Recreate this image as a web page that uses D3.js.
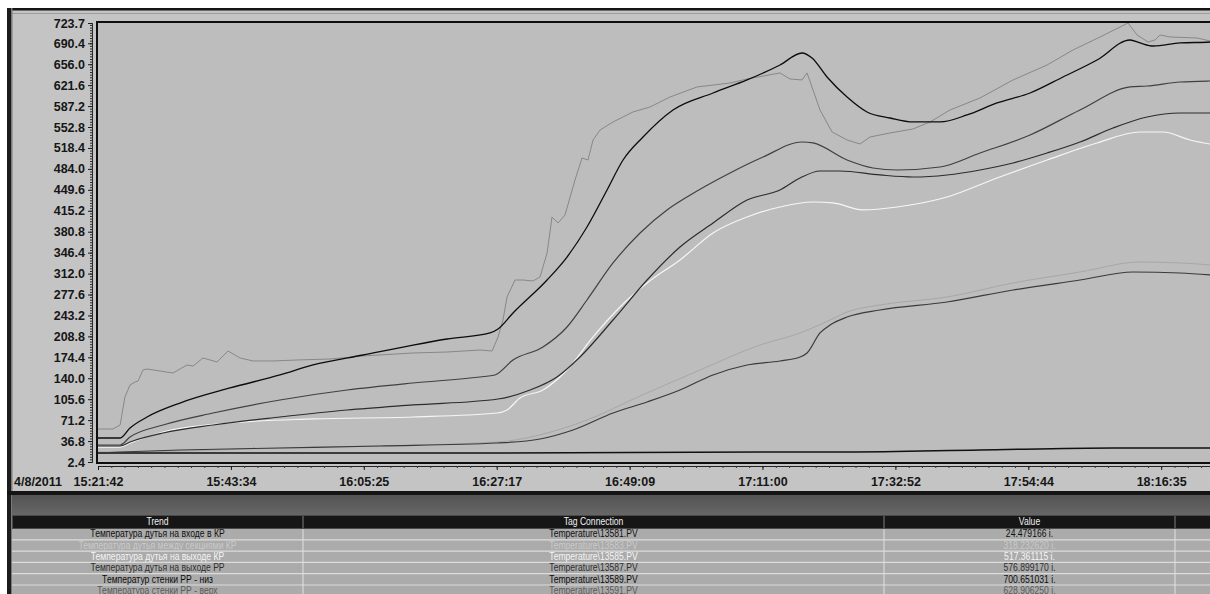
<!DOCTYPE html>
<html><head><meta charset="utf-8">
<script src="https://cdn.jsdelivr.net/npm/d3@7"></script>
<style>
html,body{margin:0;padding:0;background:#fff;overflow:hidden;}
svg{display:block;font-family:"Liberation Sans",Arial,Helvetica,sans-serif;}
</style></head><body>
<svg id="c" width="1210" height="594"></svg>
<script>
// ---- axis labels ----
const dateLabel = "4/8/2011";
const xTickLabels = ["15:21:42","15:43:34","16:05:25","16:27:17","16:49:09","17:11:00","17:32:52","17:54:44","18:16:35"];
const yTickValues = [2.4,36.8,71.2,105.6,140.0,174.4,208.8,243.2,277.6,312.0,346.4,380.8,415.2,449.6,484.0,518.4,552.8,587.2,621.6,656.0,690.4,723.7];

// ---- trend table ----
const columnHeaders = ["Trend","Tag Connection","Value",""];
const trendNames = ["Температура дутья на входе в КР","Температура дутья между секциями КР","Температура дутья на выходе КР","Температура дутья на выходе РР","Температур стенки РР - низ","Температура стенки РР - верх"];
const tagNames = ["Temperature\\13581.PV","Temperature\\13583.PV","Temperature\\13585.PV","Temperature\\13587.PV","Temperature\\13589.PV","Temperature\\13591.PV"];
const currentValues = [24.479166, 318.232620, 517.361115, 576.899170, 700.651031, 628.906250];
const currentTime = "18:30:00";

// ---- trend samples [time, °C] ----
const blastInletKR = [["15:21:42",17.2],["16:27:50",17.2],["17:10:36",18.8],["17:24:55",18.8],["17:46:47",22.1],["18:08:40",25.4],["18:24:37",25.4]];
const blastMidKR = [["15:21:42",18.8],["15:25:20",18.8],["15:51:38",25.4],["16:27:20",35.3],["16:35:34",50.0],["16:42:08",71.4],["16:50:52",110.8],["17:00:44",153.6],["17:10:36",194.6],["17:17:11",214.4],["17:22:07",235.7],["17:24:55",248.9],["17:30:20",260.4],["17:41:22",273.5],["17:52:13",296.5],["18:03:14",314.6],["18:13:07",331.0],["18:19:41",329.4],["18:24:37",326.1]];
const blastOutKR = [["15:21:42",27.0],["15:25:20",27.0],["15:26:58",33.6],["15:32:24",51.7],["15:43:25",66.5],["15:57:04",73.1],["16:13:31",76.3],["16:27:20",82.9],["16:28:59",87.8],["16:31:07",107.6],["16:34:54",120.7],["16:38:51",153.6],["16:43:08",207.8],["16:47:34",257.1],["16:52:01",296.5],["16:57:26",334.3],["17:02:52",378.7],["17:08:28",405.0],["17:13:53",421.4],["17:19:19",429.6],["17:22:36",428.0],["17:27:33",416.5],["17:33:08",421.4],["17:41:22",437.8],["17:49:35",469.0],["17:57:49",498.6],["18:06:02",526.6],["18:13:07",544.6],["18:16:54",544.6],["18:21:20",531.5],["18:24:37",524.9]];
const blastOutRR = [["15:21:42",28.7],["15:25:20",28.7],["15:26:58",35.3],["15:32:24",50.0],["15:40:37",63.2],["15:51:38",76.3],["16:02:40",87.8],["16:13:31",96.1],["16:27:30",105.9],["16:32:46",120.7],["16:37:12",142.1],["16:40:59",174.9],["16:46:25",235.7],["16:52:01",301.4],["16:57:26",355.7],["17:02:52",395.1],["17:08:28",432.9],["17:13:53",449.3],["17:17:11",469.0],["17:20:28",480.5],["17:23:46",480.5],["17:30:20",474.0],["17:35:46",470.7],["17:41:22",474.0],["17:46:47",482.2],["17:52:13",493.7],["17:57:49",510.1],["18:03:14",528.2],["18:08:40",551.2],["18:14:16",569.3],["18:19:41",575.8],["18:24:37",575.8]];
const wallLowRR = [["15:21:42",41.8],["15:25:20",41.8],["15:26:58",58.3],["15:29:46",76.3],["15:35:11",99.3],["15:43:25",124.0],["15:51:38",145.4],["15:57:04",161.8],["16:05:18",178.2],["16:13:31",194.6],["16:19:07",204.5],["16:26:11",214.4],["16:27:30",220.9],["16:29:58",247.2],["16:35:34",301.4],["16:38:51",339.2],["16:42:08",388.5],["16:45:26",449.3],["16:48:04",498.6],["16:51:21",536.4],["16:56:17",580.8],["17:02:52",608.7],["17:08:28",630.1],["17:13:53",654.7],["17:17:30",674.4],["17:19:09",666.2],["17:21:37",635.0],["17:24:55",602.1],["17:28:12",577.5],["17:31:59",567.6],["17:35:46",561.1],["17:40:13",561.1],["17:44:39",572.6],["17:49:35",592.3],["17:55:01",608.7],["18:00:26",635.0],["18:06:02",662.9],["18:11:28",695.8],["18:13:07",690.9],["18:15:15",685.9],["18:19:41",690.9],["18:24:37",692.5]];
const wallTopRR = [["15:21:42",30.3],["15:25:20",30.3],["15:26:58",43.5],["15:32:24",63.2],["15:40:37",82.9],["15:51:38",104.3],["16:02:40",120.7],["16:13:31",132.2],["16:24:32",142.1],["16:27:00",145.4],["16:29:58",170.0],["16:34:54",191.4],["16:38:51",224.2],["16:42:08",268.6],["16:46:25",329.4],["16:50:52",378.7],["16:55:18",416.5],["16:58:35",437.8],["17:05:40",477.3],["17:11:06",503.5],["17:17:30",528.2],["17:19:19",526.6],["17:24:55",498.6],["17:29:11",485.5],["17:33:08",482.2],["17:40:13",487.1],["17:46:47",510.1],["17:55:01",539.7],["18:03:14",580.8],["18:11:28",618.6],["18:14:16",620.2],["18:19:41",626.8],["18:24:37",628.4]];
const domeTemp = [["15:21:42",56.6],["15:24:10",56.6],["15:25:20",63.2],["15:26:08",109.2],["15:26:58",128.9],["15:27:47",133.8],["15:28:17",135.5],["15:29:06",153.6],["15:29:46",155.2],["15:34:02",148.6],["15:36:20",161.8],["15:37:20",160.1],["15:38:58",173.3],["15:41:17",166.7],["15:43:05",184.8],["15:45:04",173.3],["15:47:12",168.4],["15:50:29",168.4],["15:54:26",170.0],["15:59:52",171.6],["16:05:18",176.6],["16:13:31",181.5],["16:19:07",183.1],["16:24:32",186.4],["16:26:31",184.8],["16:27:30",207.8],["16:28:19",235.7],["16:28:59",273.5],["16:30:18",301.4],["16:31:37",301.4],["16:33:15",299.8],["16:34:25",306.4],["16:35:34",345.8],["16:36:23",405.0],["16:37:22",395.1],["16:38:31",408.2],["16:40:10",465.8],["16:41:19",501.9],["16:42:18",498.6],["16:43:08",531.5],["16:44:17",547.9],["16:46:25",561.1],["16:49:42",577.5],["16:52:30",585.7],["16:55:48",602.1],["17:00:14",618.6],["17:05:40",625.1],["17:08:28",631.7],["17:13:53",641.6],["17:15:32",631.7],["17:17:30",630.1],["17:18:20",641.6],["17:19:19",613.6],["17:20:28",580.8],["17:22:27",544.6],["17:24:55",531.5],["17:27:03",524.9],["17:28:42",536.4],["17:31:59",543.0],["17:35:46",549.6],["17:38:34",561.1],["17:41:51",580.8],["17:46:47",600.5],["17:52:13",630.1],["17:57:49",654.7],["18:02:05",679.4],["18:06:32",700.7],["18:11:08",723.7],["18:12:37",704.0],["18:14:26",692.5],["18:15:35",695.8],["18:16:24",704.0],["18:18:03",700.7],["18:22:29",699.1],["18:24:37",694.1]];
const fumeTemp = [["15:21:42",17.2],["15:25:20",18.8],["15:35:11",22.1],["15:51:38",25.4],["16:08:05",28.7],["16:27:20",33.6],["16:34:25",40.2],["16:39:50",55.0],["16:46:25",82.9],["16:52:01",101.0],["16:57:26",120.7],["17:02:52",145.4],["17:08:28",161.8],["17:13:53",168.4],["17:17:11",174.9],["17:18:20",181.5],["17:20:28",214.4],["17:22:07",227.5],["17:24:55",240.6],["17:30:20",252.2],["17:41:22",265.3],["17:52:13",285.0],["18:03:14",301.4],["18:11:57",314.6],["18:19:41",312.9],["18:24:37",309.7]];

const parseT = d3.timeParse("%H:%M:%S");
const svg = d3.select("#c");
const W = 1210;

// ---- scales ----
const t0 = parseT(xTickLabels[0]);
const stepMs = 1311667;                      // spacing of labelled time ticks
const x = d3.scaleTime().domain([t0, new Date(+t0 + 9 * stepMs)]).range([98, 98 + 9 * 132.9]);
const y = d3.scaleLinear().domain([2.4, 723.7]).range([462, 23]);

// ---- window frame ----
svg.append("rect").attr("x", 0).attr("y", 0).attr("width", W).attr("height", 594).attr("fill", "#ffffff");
svg.append("rect").attr("x", 7).attr("y", 8).attr("width", W - 7).attr("height", 484).attr("fill", "#c4c4c4");
svg.append("rect").attr("x", 7).attr("y", 8).attr("width", W - 7).attr("height", 2.5).attr("fill", "#141414");
svg.append("line").attr("x1", 12).attr("x2", W).attr("y1", 13.5).attr("y2", 13.5).attr("stroke", "#9c9c9c");
svg.append("rect").attr("x", 7).attr("y", 8).attr("width", 4).attr("height", 586).attr("fill", "#1c1c1c");
svg.append("rect").attr("x", 11).attr("y", 8).attr("width", 1.5).attr("height", 586).attr("fill", "#7a7a7a");

// ---- plot area ----
svg.append("rect").attr("x", 97).attr("y", 22).attr("width", 1300).attr("height", 441)
  .attr("fill", "#bdbdbd").attr("stroke", "#0e0e0e").attr("stroke-width", 2);

svg.append("clipPath").attr("id", "plotClip").append("rect")
  .attr("x", 98).attr("y", 23).attr("width", 1300).attr("height", 439);

// ---- trend lines ----
const series = [
  { data: blastMidKR.concat([[currentTime, currentValues[1]]]), color: "#a7a7a7", width: 1.0, curve: d3.curveMonotoneX },
  { data: blastInletKR.concat([[currentTime, currentValues[0]]]), color: "#111111", width: 1.5, curve: d3.curveMonotoneX },
  { data: fumeTemp, color: "#3a3a3a", width: 1.2, curve: d3.curveMonotoneX },
  { data: blastOutKR.concat([[currentTime, currentValues[2]]]), color: "#f6f6f6", width: 1.2, curve: d3.curveMonotoneX },
  { data: blastOutRR.concat([[currentTime, currentValues[3]]]), color: "#2c2c2c", width: 1.2, curve: d3.curveMonotoneX },
  { data: wallTopRR.concat([[currentTime, currentValues[5]]]), color: "#404040", width: 1.2, curve: d3.curveMonotoneX },
  { data: domeTemp, color: "#888888", width: 1.0, curve: d3.curveLinear },
  { data: wallLowRR.concat([[currentTime, currentValues[4]]]), color: "#0c0c0c", width: 1.3, curve: d3.curveMonotoneX }
];

const lines = svg.append("g").attr("clip-path", "url(#plotClip)");
series.forEach(s => {
  const line = d3.line().x(d => x(parseT(d[0]))).y(d => y(d[1])).curve(s.curve);
  lines.append("path").attr("d", line(s.data)).attr("fill", "none")
    .attr("stroke", s.color).attr("stroke-width", s.width).attr("stroke-linejoin", "round");
});

// ---- y axis ----
const yAxisG = svg.append("g").attr("transform", "translate(92,0)");
const yMinor = d3.range(0, 21 * 8 + 1).map(i => 2.4 + i * 34.4 / 8).filter(v => v <= 723.7);
yAxisG.append("g").call(d3.axisLeft(y).tickValues(yMinor).tickSize(2).tickFormat(""))
  .call(g => g.selectAll("path,line").attr("stroke", "#2a2a2a"));
yAxisG.append("g").call(d3.axisLeft(y).tickValues(yTickValues).tickSize(4).tickPadding(3).tickFormat(d3.format(".1f")))
  .call(g => g.select(".domain").attr("stroke", "#2a2a2a"))
  .call(g => g.selectAll("line").attr("stroke", "#1a1a1a"))
  .call(g => g.selectAll("text").attr("font-size", 12.5).attr("font-weight", "bold").attr("fill", "#161616")
    .attr("font-family", "'Liberation Sans',Arial,sans-serif"));

// ---- x axis ----
const xAxisG = svg.append("g").attr("transform", "translate(0,466)");
const xMinor = d3.range(0, 91).map(i => new Date(+t0 + i * stepMs / 10));
xAxisG.append("g").call(d3.axisBottom(x).tickValues(xMinor).tickSize(2).tickFormat(""))
  .call(g => g.select(".domain").attr("stroke", "#222"))
  .call(g => g.selectAll("line").attr("stroke", "#333"));
xAxisG.append("g").call(d3.axisBottom(x).tickValues(xTickLabels.map(parseT)).tickSize(4).tickPadding(7)
    .tickFormat(d3.timeFormat("%H:%M:%S")))
  .call(g => g.select(".domain").remove())
  .call(g => g.selectAll("line").attr("stroke", "#1a1a1a"))
  .call(g => g.selectAll("text").attr("font-size", 12.5).attr("font-weight", "bold").attr("fill", "#161616")
    .attr("font-family", "'Liberation Sans',Arial,sans-serif"));
svg.append("text").attr("x", 14).attr("y", 485.5).text(dateLabel)
  .attr("font-size", 12.5).attr("font-weight", "bold").attr("fill", "#161616");

// ---- separator band ----
svg.append("rect").attr("x", 7).attr("y", 491).attr("width", W - 7).attr("height", 4).attr("fill", "#141414");
const grad = svg.append("defs").append("linearGradient").attr("id", "band").attr("x1", 0).attr("x2", 0).attr("y1", 0).attr("y2", 1);
grad.append("stop").attr("offset", 0).attr("stop-color", "#535353");
grad.append("stop").attr("offset", 1).attr("stop-color", "#676767");
svg.append("rect").attr("x", 12).attr("y", 495).attr("width", W - 12).attr("height", 20).attr("fill", "url(#band)");

// ---- trend table ----
const colEdges = [12, 303, 884, 1175, 1260];
const headerY = 515.5, headerH = 13, rowY0 = 529, rowH = 11.3;
const rowTextColors = ["#101010", "#c9c9c9", "#f4f4f4", "#2e2e2e", "#0c0c0c", "#5a5a5a"];
const squeeze = 0.86;

function cellText(parent, cx, cy, str, color) {
  parent.append("g").attr("transform", `translate(${cx},${cy}) scale(${squeeze},1)`)
    .append("text").attr("text-anchor", "middle").attr("font-size", 10).attr("fill", color).text(str);
}

const table = svg.append("g");
table.append("rect").attr("x", 12).attr("y", headerY).attr("width", W - 12).attr("height", 594 - headerY).attr("fill", "#ababab");
columnHeaders.forEach((h, i) => {
  table.append("rect").attr("x", colEdges[i] + 0.5).attr("y", headerY).attr("width", colEdges[i + 1] - colEdges[i] - 1)
    .attr("height", headerH).attr("fill", "#161616").attr("stroke", "#4a4a4a").attr("stroke-width", 1);
  if (h) cellText(table, (colEdges[i] + colEdges[i + 1]) / 2, headerY + 9.5, h, "#f0f0f0");
});

const rows = trendNames.map((name, i) => ({ name, tag: tagNames[i], value: d3.format(".6f")(currentValues[i]) + " i.", color: rowTextColors[i] }));
rows.forEach((r, i) => {
  const top = rowY0 + i * rowH;
  table.append("line").attr("x1", 12).attr("x2", W).attr("y1", top + rowH - 0.5).attr("y2", top + rowH - 0.5)
    .attr("stroke", "#dcdcdc").attr("stroke-width", 1.2);
  const cy = top + 8.3;
  cellText(table, (colEdges[0] + colEdges[1]) / 2, cy, r.name, r.color);
  cellText(table, (colEdges[1] + colEdges[2]) / 2, cy, r.tag, r.color);
  cellText(table, (colEdges[2] + colEdges[3]) / 2, cy, r.value, r.color);
});
colEdges.slice(1, 4).forEach(cx => {
  table.append("line").attr("x1", cx).attr("x2", cx).attr("y1", rowY0).attr("y2", 594)
    .attr("stroke", "#e2e2e2").attr("stroke-width", 1);
});
</script>
</body></html>
